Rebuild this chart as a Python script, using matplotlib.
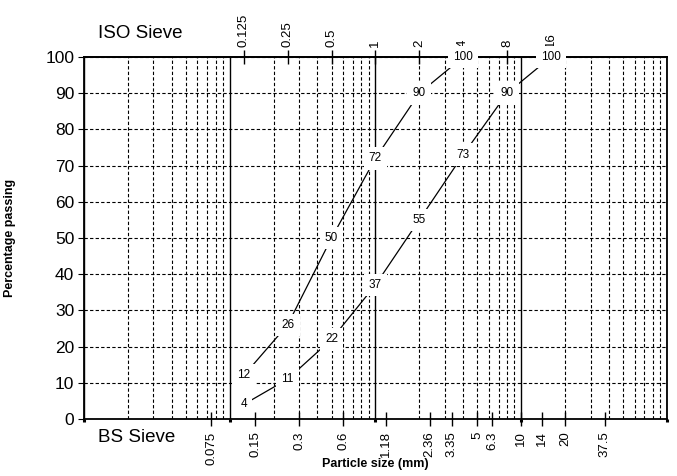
import numpy as np
import matplotlib
matplotlib.use('Agg')
import matplotlib.pyplot as plt
from matplotlib.ticker import FixedLocator, NullFormatter

plt.rcParams['font.family'] = ['Liberation Sans', 'DejaVu Sans']

# --- Data ---
sizes = [0.125, 0.25, 0.5, 1, 2, 4, 8, 16]
fine_pct = [12, 26, 50, 72, 90, 100]
coarse_pct = [4, 11, 22, 37, 55, 73, 90, 100]

iso_sieves = [0.125, 0.25, 0.5, 1, 2, 4, 8, 16]
iso_labels = ['0.125', '0.25', '0.5', '1', '2', '4', '8', '16']
bs_sieves = [0.075, 0.15, 0.3, 0.6, 1.18, 2.36, 3.35, 5, 6.3, 10, 14, 20, 37.5]
bs_labels = ['0.075', '0.15', '0.3', '0.6', '1.18', '2.36', '3.35', '5', '6.3', '10', '14', '20', '37.5']

decades = [0.01, 0.1, 1, 10, 100]
y_ticks = list(range(0, 101, 10))

# --- Figure ---
fig = plt.figure(figsize=(6.77, 4.76), dpi=100)
ax = fig.add_axes([0.124, 0.120, 0.861, 0.760])
ax.set_xscale('log')
ax.set_xlim(0.01, 100)
ax.set_ylim(0, 100)

dash = (0, (3, 2))
ax.xaxis.set_major_locator(FixedLocator(decades))
ax.xaxis.set_minor_locator(FixedLocator([m * d for d in decades[:-1] for m in range(2, 10)]))
ax.xaxis.set_major_formatter(NullFormatter())
ax.xaxis.set_minor_formatter(NullFormatter())
ax.tick_params(axis='x', which='major', direction='out', length=2.5, width=2.2, color='black')
ax.tick_params(axis='x', which='minor', length=0)
ax.grid(True, which='major', axis='x', color='black', lw=1.0, ls='-')
ax.grid(True, which='minor', axis='x', color='black', lw=0.8, ls=dash)

ax.set_yticks(y_ticks)
ax.tick_params(axis='y', direction='out', length=4, width=0.8, labelsize=12.5, pad=3)
ax.grid(True, which='major', axis='y', color='black', lw=0.8, ls=dash)
ax.set_axisbelow(True)

for s in ax.spines.values():
    s.set_linewidth(1.3)

# grading lines
ax.plot(sizes[:len(fine_pct)], fine_pct, color='black', lw=0.9, zorder=3)
ax.plot(sizes, coarse_pct, color='black', lw=0.9, zorder=3)
box = dict(boxstyle='square,pad=0.45', fc='white', ec='none')
for x, y in zip(sizes, fine_pct):
    ax.text(x, y, str(y), ha='center', va='center', fontsize=8.5, bbox=box, zorder=4)
for x, y in zip(sizes, coarse_pct):
    ax.text(x, y, str(y), ha='center', va='center', fontsize=8.5, bbox=box, zorder=4)

# ISO sieve axis (top)
top = ax.secondary_xaxis('top')
top.set_xticks(iso_sieves, iso_labels, rotation=90)
top.xaxis.set_minor_locator(FixedLocator([]))
top.tick_params(axis='x', direction='inout', length=10, width=1.0, labelsize=9.5, pad=2)
top.spines['top'].set_linewidth(1.3)

# BS sieve axis (bottom)
bot = ax.secondary_xaxis('bottom')
bot.set_xticks(bs_sieves, bs_labels, rotation=90)
bot.xaxis.set_minor_locator(FixedLocator([]))
bot.tick_params(axis='x', direction='inout', length=10, width=1.0, labelsize=9.5, pad=4)
bot.spines['bottom'].set_visible(False)

fig.text(0.145, 0.930, 'ISO Sieve', fontsize=13.5, ha='left', va='center')
fig.text(0.145, 0.080, 'BS Sieve', fontsize=13.5, ha='left', va='center')
fig.text(0.555, 0.012, 'Particle size (mm)', fontsize=9, fontweight='bold', ha='center', va='bottom')
fig.text(0.015, 0.500, 'Percentage passing', fontsize=9, fontweight='bold',
         rotation=90, ha='center', va='center')

fig.savefig('out.png', dpi=100)
